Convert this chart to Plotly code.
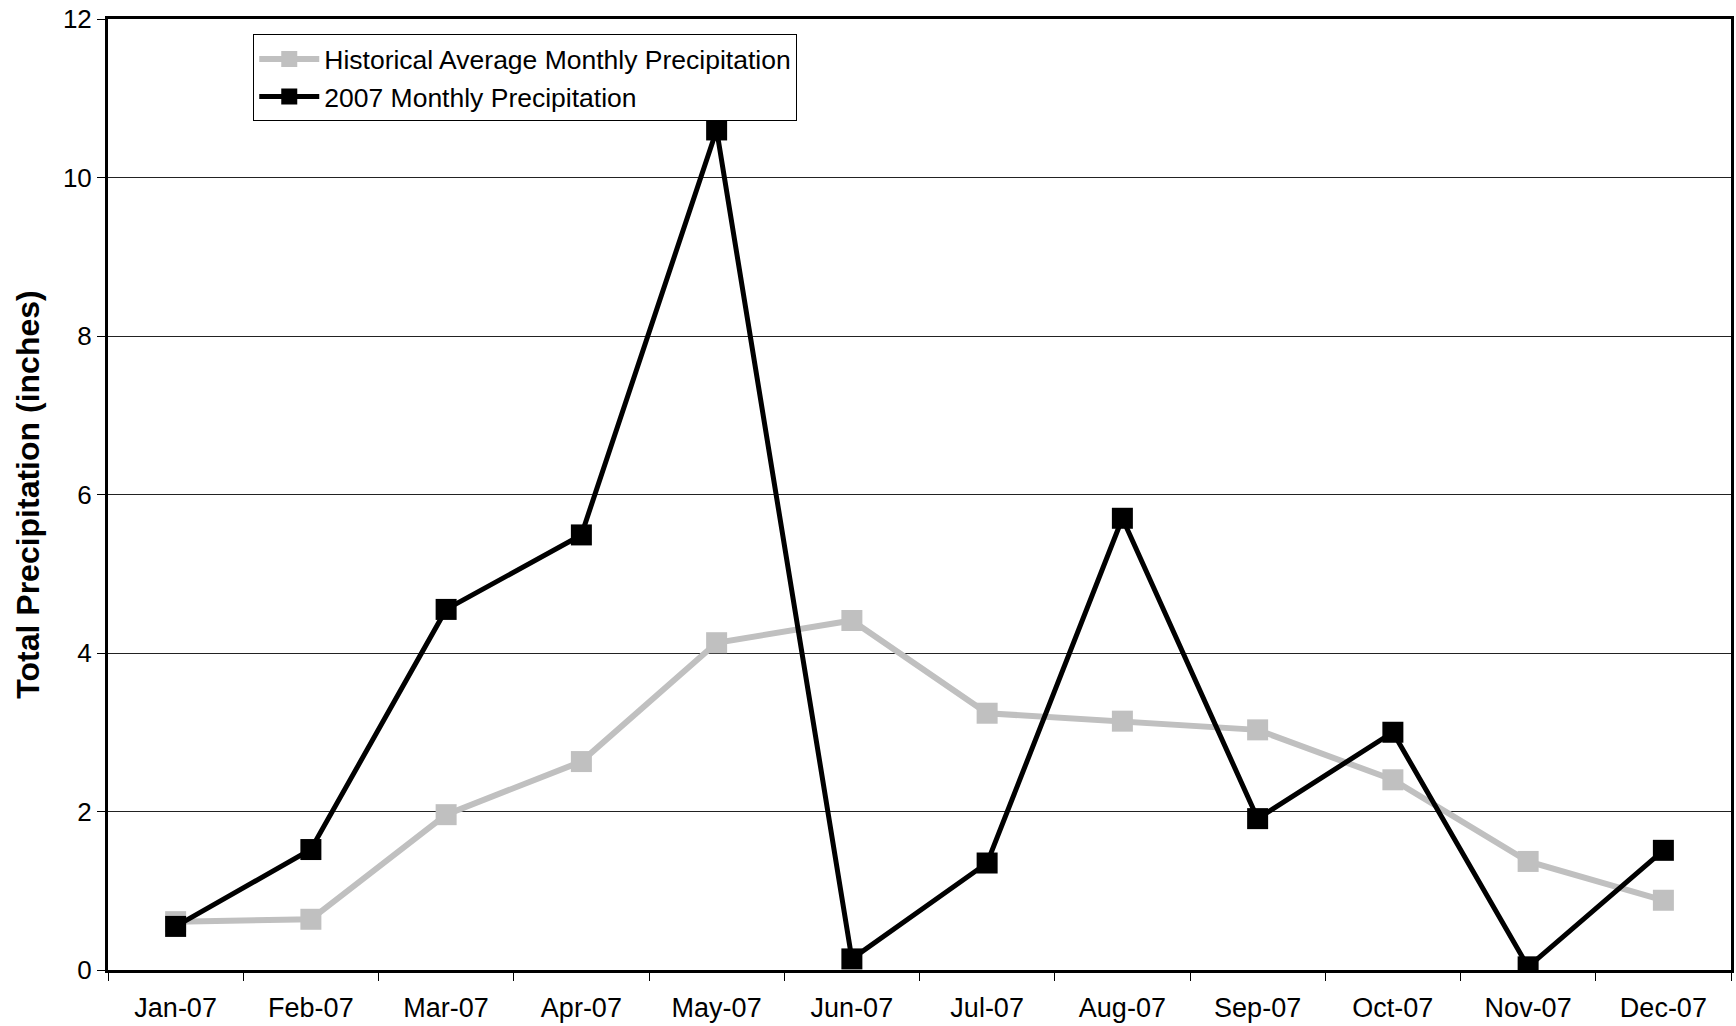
import plotly.graph_objects as go

months = ["Jan-07", "Feb-07", "Mar-07", "Apr-07", "May-07", "Jun-07",
          "Jul-07", "Aug-07", "Sep-07", "Oct-07", "Nov-07", "Dec-07"]
historical = [0.61, 0.64, 1.96, 2.63, 4.13, 4.41, 3.24, 3.14, 3.03, 2.40, 1.37, 0.88]
precip_2007 = [0.55, 1.52, 4.55, 5.49, 10.60, 0.14, 1.35, 5.70, 1.91, 3.00, 0.04, 1.51]
y_ticks = [0, 2, 4, 6, 8, 10, 12]

FONT = "Liberation Sans, Arial, sans-serif"

fig = go.Figure()
fig.add_trace(go.Scatter(
    x=months, y=historical, mode="lines+markers",
    name="Historical Average Monthly Precipitation",
    line=dict(color="#C0C0C0", width=6),
    marker=dict(symbol="square", size=21, color="#C0C0C0"),
))
fig.add_trace(go.Scatter(
    x=months, y=precip_2007, mode="lines+markers",
    name="2007 Monthly Precipitation",
    line=dict(color="#000000", width=5),
    marker=dict(symbol="square", size=21, color="#000000"),
))

fig.update_layout(
    width=1736, height=1026,
    margin=dict(l=108, r=2, t=19, b=56),
    paper_bgcolor="white", plot_bgcolor="white",
    font=dict(family=FONT, size=26, color="black"),
    showlegend=True,
    legend=dict(
        x=0.0895, y=0.984, xanchor="left", yanchor="top",
        bgcolor="white", bordercolor="black", borderwidth=1,
        font=dict(family=FONT, size=26.5, color="black"),
        tracegroupgap=0, itemwidth=60,
    ),
    xaxis=dict(
        type="category", categoryorder="array", categoryarray=months,
        range=[-0.5, 11.5],
        showline=True, linecolor="black", linewidth=3, mirror=True,
        ticks="outside", tickson="boundaries", ticklen=8, tickcolor="black", tickwidth=1,
        ticklabelstandoff=12,
        showgrid=False, tickfont=dict(family=FONT, size=27, color="black"),
    ),
    yaxis=dict(
        range=[0, 12], tickvals=y_ticks,
        showline=True, linecolor="black", linewidth=3, mirror=True,
        ticks="outside", ticklen=8, tickcolor="black", tickwidth=1,
        showgrid=True, gridcolor="#222222", gridwidth=1,
        zeroline=False,
        tickfont=dict(family=FONT, size=26, color="black"),
        title=dict(text="<b>Total Precipitation (inches)</b>",
                   font=dict(family=FONT, size=32, color="black"), standoff=14),
    ),
)

fig.write_html("out.html", config={"displayModeBar": False},
               post_script="document.body.style.margin='0';")
